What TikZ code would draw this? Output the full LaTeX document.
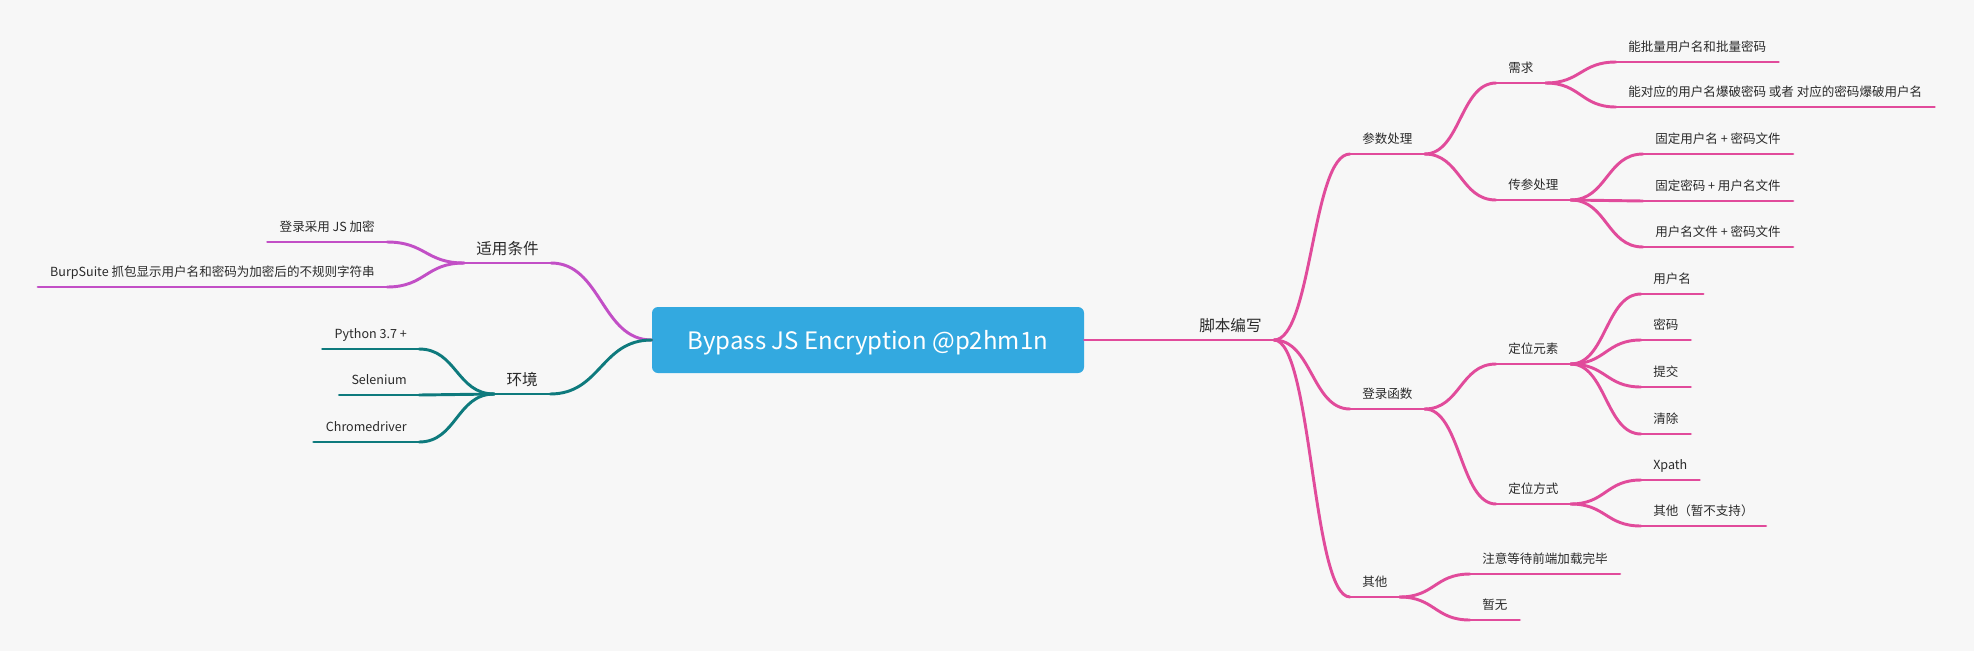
\documentclass[tikz,border=0pt]{standalone}
\usepackage{fontspec}
\setmainfont{Noto Sans CJK SC}
\usepackage{xcolor}
\usetikzlibrary{calc}

\definecolor{bgcolor}{HTML}{F7F7F7}
\definecolor{rootblue}{HTML}{33A9E0}
\definecolor{pinkline}{HTML}{E14B9B}
\definecolor{purpleline}{HTML}{C24FC6}
\definecolor{tealline}{HTML}{0E7A7D}
\definecolor{ink}{HTML}{2A2A2A}

\begin{document}
\begin{tikzpicture}[x=0.75pt, y=-0.75pt,
  rootbox/.style={fill=rootblue, text=white, rounded corners=4.5pt,
    minimum width=324pt, minimum height=49.5pt, text depth=0pt,
    font=\fontsize{18}{22}\selectfont},
  maintopic/.style={inner xsep=9pt, inner ysep=6pt, text depth=0pt, text=ink,
    font=\fontsize{11.7}{14}\selectfont},
  subtopic/.style={inner xsep=9pt, inner ysep=7.5pt, text depth=0pt, text=ink,
    font=\fontsize{9.4}{11}\selectfont},
  link/.style={line width=2.2pt, line cap=round},
  curvy/.style={to path={.. controls ($(\tikztostart)!0.5!(\tikztostart -| \tikztotarget)$)
    and ($(\tikztotarget)!0.5!(\tikztotarget -| \tikztostart)$) .. (\tikztotarget)}}
]
  % Background
  \fill[bgcolor] (0,0) rectangle (1974,651);
  \useasboundingbox (0,0) rectangle (1974,651);

  % Root
  \node[rootbox] (root) at (868,340) {Bypass JS Encryption @p2hm1n};

  % Left: conditions
  \node[maintopic, anchor=south east] (cond) at (551,263) {适用条件};
  \node[subtopic, anchor=south east] (jsenc) at (387,242) {登录采用 JS 加密};
  \node[subtopic, anchor=south east] (burp) at (387,287)
    {BurpSuite 抓包显示用户名和密码为加密后的不规则字符串};

  % Left: environment
  \node[maintopic, anchor=south east] (env) at (550,394) {环境};
  \node[subtopic, anchor=south east] (python) at (419,349) {Python 3.7 +};
  \node[subtopic, anchor=south east] (selenium) at (419,395) {Selenium};
  \node[subtopic, anchor=south east] (chrome) at (419,442) {Chromedriver};

  % Right: script
  \node[maintopic, anchor=south west] (script) at (1187,340) {脚本编写};

  % Parameters
  \node[subtopic, anchor=south west] (param) at (1350,154) {参数处理};
  \node[subtopic, anchor=south west] (need) at (1496,83) {需求};
  \node[subtopic, anchor=south west] (batch) at (1616,62) {能批量用户名和批量密码};
  \node[subtopic, anchor=south west] (pair) at (1616,107)
    {能对应的用户名爆破密码 或者 对应的密码爆破用户名};
  \node[subtopic, anchor=south west] (pass) at (1496,200) {传参处理};
  \node[subtopic, anchor=south west] (fixuser) at (1643,154) {固定用户名 + 密码文件};
  \node[subtopic, anchor=south west] (fixpwd) at (1643,201) {固定密码 + 用户名文件};
  \node[subtopic, anchor=south west] (files) at (1643,247) {用户名文件 + 密码文件};

  % Login function
  \node[subtopic, anchor=south west] (login) at (1350,409) {登录函数};
  \node[subtopic, anchor=south west] (locel) at (1496,364) {定位元素};
  \node[subtopic, anchor=south west] (uname) at (1641,294) {用户名};
  \node[subtopic, anchor=south west] (pwd) at (1641,340) {密码};
  \node[subtopic, anchor=south west] (submit) at (1641,387) {提交};
  \node[subtopic, anchor=south west] (clear) at (1641,434) {清除};
  \node[subtopic, anchor=south west] (locway) at (1496,504) {定位方式};
  \node[subtopic, anchor=south west] (xpath) at (1641,480) {Xpath};
  \node[subtopic, anchor=south west] (nosupp) at (1641,526) {其他（暂不支持）};

  % Others
  \node[subtopic, anchor=south west] (other) at (1350,597) {其他};
  \node[subtopic, anchor=south west] (wait) at (1470,574) {注意等待前端加载完毕};
  \node[subtopic, anchor=south west] (none) at (1470,620) {暂无};

  % Underlines
  \foreach \n in {cond,jsenc,burp}
    \draw[link, purpleline] (\n.south west) -- (\n.south east);
  \foreach \n in {env,python,selenium,chrome}
    \draw[link, tealline] (\n.south west) -- (\n.south east);
  \foreach \n in {script,param,need,batch,pair,pass,fixuser,fixpwd,files,
                  login,locel,uname,pwd,submit,clear,locway,xpath,nosupp,
                  other,wait,none}
    \draw[link, pinkline] (\n.south west) -- (\n.south east);

  % Connectors, left
  \draw[link, purpleline] (root.west) to[curvy] (cond.south east);
  \draw[link, purpleline] (cond.south west) to[curvy] (jsenc.south east);
  \draw[link, purpleline] (cond.south west) to[curvy] (burp.south east);
  \draw[link, tealline] (root.west) to[curvy] (env.south east);
  \draw[link, tealline] (env.south west) to[curvy] (python.south east);
  \draw[link, tealline] (env.south west) to[curvy] (selenium.south east);
  \draw[link, tealline] (env.south west) to[curvy] (chrome.south east);

  % Connectors, right
  \draw[link, pinkline] (root.east) -- (script.south west);
  \draw[link, pinkline] (script.south east) to[curvy] (param.south west);
  \draw[link, pinkline] (script.south east) to[curvy] (login.south west);
  \draw[link, pinkline] (script.south east) to[curvy] (other.south west);
  \draw[link, pinkline] (param.south east) to[curvy] (need.south west);
  \draw[link, pinkline] (param.south east) to[curvy] (pass.south west);
  \draw[link, pinkline] (need.south east) to[curvy] (batch.south west);
  \draw[link, pinkline] (need.south east) to[curvy] (pair.south west);
  \draw[link, pinkline] (pass.south east) to[curvy] (fixuser.south west);
  \draw[link, pinkline] (pass.south east) to[curvy] (fixpwd.south west);
  \draw[link, pinkline] (pass.south east) to[curvy] (files.south west);
  \draw[link, pinkline] (login.south east) to[curvy] (locel.south west);
  \draw[link, pinkline] (login.south east) to[curvy] (locway.south west);
  \draw[link, pinkline] (locel.south east) to[curvy] (uname.south west);
  \draw[link, pinkline] (locel.south east) to[curvy] (pwd.south west);
  \draw[link, pinkline] (locel.south east) to[curvy] (submit.south west);
  \draw[link, pinkline] (locel.south east) to[curvy] (clear.south west);
  \draw[link, pinkline] (locway.south east) to[curvy] (xpath.south west);
  \draw[link, pinkline] (locway.south east) to[curvy] (nosupp.south west);
  \draw[link, pinkline] (other.south east) to[curvy] (wait.south west);
  \draw[link, pinkline] (other.south east) to[curvy] (none.south west);
\end{tikzpicture}
\end{document}
